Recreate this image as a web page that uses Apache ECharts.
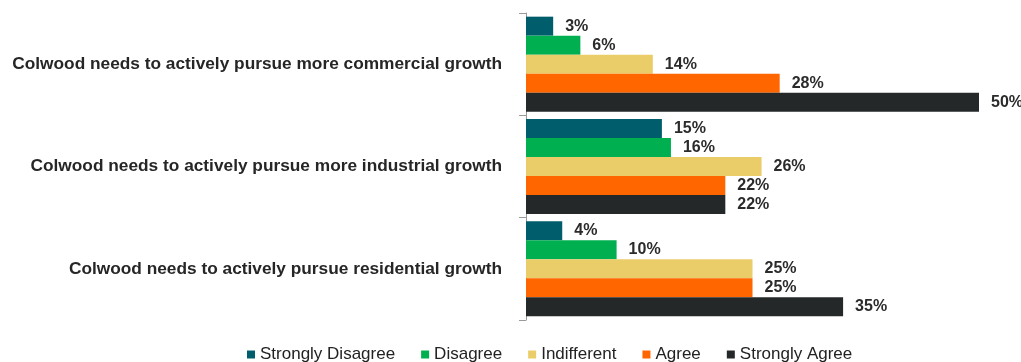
<!DOCTYPE html>
<html>
<head>
<meta charset="utf-8">
<script src="https://cdn.jsdelivr.net/npm/echarts@6/dist/echarts.min.js"></script>
<style>
  html, body { margin: 0; padding: 0; background: #ffffff; }
  #chart { width: 1021px; height: 362px; }
</style>
</head>
<body>
<div id="chart"></div>
<script>
// Survey statements (top to bottom)
const categories = [
  'Colwood needs to actively pursue more commercial growth',
  'Colwood needs to actively pursue more industrial growth',
  'Colwood needs to actively pursue residential growth'
];

// Response shares in percent, one array per answer
const seriesNames = ['Strongly Disagree', 'Disagree', 'Indifferent', 'Agree', 'Strongly Agree'];
const stronglyDisagree = [3, 15, 4];
const disagree = [6, 16, 10];
const indifferent = [14, 26, 25];
const agree = [28, 22, 25];
const stronglyAgree = [50, 22, 35];

const colors = ['#005E6C', '#00B050', '#EACD69', '#FF6600', '#242829'];
const values = [stronglyDisagree, disagree, indifferent, agree, stronglyAgree];

const chart = echarts.init(document.getElementById('chart'), null, { renderer: 'canvas' });

const series = seriesNames.map((name, i) => ({
  name: name,
  type: 'bar',
  data: values[i],
  barWidth: 19,
  barGap: '0%',
  itemStyle: { color: colors[i] },
  label: {
    show: true,
    position: 'right',
    distance: 12,
    formatter: '{c}%',
    fontFamily: 'Liberation Sans, Arial, sans-serif',
    fontWeight: 'bold',
    fontSize: 16,
    color: '#2b2b2b'
  }
}));

chart.setOption({
  animation: false,
  color: colors,
  grid: { left: 526, top: 13, width: 453, height: 307, containLabel: false },
  legend: {
    left: 247,
    top: 346,
    padding: 0,
    icon: 'rect',
    itemWidth: 8,
    itemHeight: 8,
    itemGap: 26,
    textStyle: {
      fontFamily: 'Liberation Sans, Arial, sans-serif',
      fontSize: 17,
      color: '#222222'
    },
    data: seriesNames
  },
  xAxis: {
    type: 'value',
    min: 0,
    max: 50,
    show: false
  },
  yAxis: {
    type: 'category',
    inverse: true,
    data: categories,
    axisLine: { show: true, lineStyle: { color: '#9a9a9a', width: 1 } },
    axisTick: { show: true, length: 7, lineStyle: { color: '#9a9a9a' } },
    axisLabel: {
      margin: 24,
      fontFamily: 'Liberation Sans, Arial, sans-serif',
      fontWeight: 'bold',
      fontSize: 17.3,
      color: '#262626'
    },
    splitLine: { show: false }
  },
  series: series
});
</script>
</body>
</html>
